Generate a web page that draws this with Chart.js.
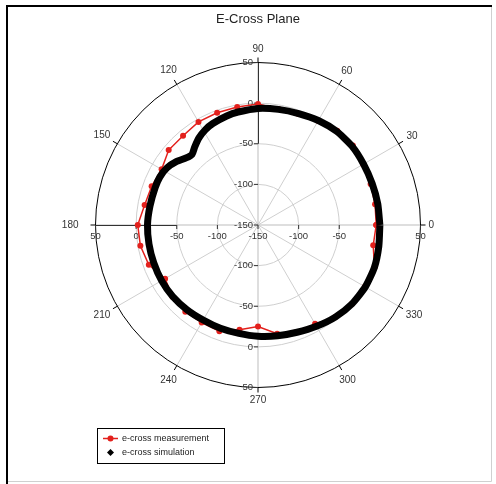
<!DOCTYPE html>
<html>
<head>
<meta charset="utf-8">
<title>E-Cross Plane</title>
<script src="https://cdn.jsdelivr.net/npm/chart.js@4.4.0/dist/chart.umd.min.js"></script>
<style>
  html, body { margin: 0; padding: 0; background: #fff; }
  #wrap { width: 496px; height: 484px; }
</style>
</head>
<body>
<div id="wrap"><canvas id="polarChart"></canvas></div>
<script>
// angles in degrees (0 = right, counter-clockwise), levels in dB
const measAngles = [0, 10, 20, 30, 40, 50, 60, 70, 80, 90, 100, 110, 120, 130, 140, 150, 160, 170, 180,
  190, 200, 210, 220, 230, 240, 250, 260, 270, 280, 290, 300, 310, 320, 330, 340, 350, 360];
const measValues = [-4.5, -3.7, -2.5, -0.5, 2.4, 1.6, -2, -4.5, -5, -1, -2.5, -3, -3.5, -6.5, -6.5, -13, -10.7, -8.3, -2,
  -3, -7, -18, -12.6, -10.8, -11.4, -11, -19, -25, -14, -10, -9.5, -2, 1, 2, 2.5, -6, -4.5];

const simAngles = [0, 10, 20, 30, 40, 50, 60, 70, 80, 90, 100, 106, 114, 119, 124, 129, 133, 137, 142, 148, 154,
  160, 170, 180, 190, 200, 210, 220, 230, 240, 250, 260, 270, 280, 290, 300, 310, 320, 330, 340, 350, 360];
const simValues = [0, -0.3, -0.5, 0, 1, 0.5, -1.5, -4, -5.5, -6.5, -8.8, -10.4, -13.3, -16.1, -20.4, -26.3, -31, -29, -23, -17.7, -15.5,
  -15.3, -15, -14, -13.8, -13.5, -13, -13, -14, -15, -14.8, -14.5, -13, -11.5, -9.5, -6, -2, 1, 2.5, 2.5, 1, 0];

const rTicks = [-150, -100, -50, 0, 50];
const angleTicks = [0, 30, 60, 90, 120, 150, 180, 210, 240, 270, 300, 330];

const rMin = -150, rMax = 50;
const span = rMax - rMin;

// polar -> cartesian, radius measured from the -150 dB centre
function toXY(angles, values) {
  return angles.map((a, i) => {
    const th = a * Math.PI / 180;
    const r = values[i] - rMin;
    return { x: r * Math.cos(th), y: r * Math.sin(th) };
  });
}

const font = "Arial, 'Liberation Sans', sans-serif";

const polarGrid = {
  id: 'polarGrid',
  beforeDatasetsDraw(chart) {
    const { ctx, scales: { x, y } } = chart;
    const cx = x.getPixelForValue(0), cy = y.getPixelForValue(0);
    const rad = v => x.getPixelForValue(v - rMin) - cx;
    const R = rad(rMax);
    ctx.save();
    ctx.lineWidth = 1;

    // grid rings
    ctx.strokeStyle = '#cfcfcf';
    rTicks.forEach(t => {
      if (t === rMin || t === rMax) return;
      ctx.beginPath();
      ctx.arc(cx, cy, rad(t), 0, Math.PI * 2);
      ctx.stroke();
    });

    // spokes
    angleTicks.forEach(a => {
      if (a % 90 === 0) return;
      const th = a * Math.PI / 180;
      ctx.beginPath();
      ctx.moveTo(cx, cy);
      ctx.lineTo(cx + R * Math.cos(th), cy - R * Math.sin(th));
      ctx.stroke();
    });

    // cross axes (light part)
    ctx.strokeStyle = '#bdbdbd';
    ctx.beginPath();
    ctx.moveTo(cx - R, cy); ctx.lineTo(cx + R, cy);
    ctx.moveTo(cx, cy - R); ctx.lineTo(cx, cy + R);
    ctx.stroke();
    // dark part (outer ring to -50)
    ctx.strokeStyle = '#333';
    ctx.beginPath();
    ctx.moveTo(cx - R, cy + 0.5); ctx.lineTo(cx - rad(-50), cy + 0.5);
    ctx.moveTo(cx + 0.5, cy - R); ctx.lineTo(cx + 0.5, cy - rad(-50));
    ctx.stroke();

    // outer ring
    ctx.strokeStyle = '#000';
    ctx.beginPath();
    ctx.arc(cx, cy, R, 0, Math.PI * 2);
    ctx.stroke();

    // angle ticks + labels
    ctx.font = '10px ' + font;
    ctx.fillStyle = '#333';
    ctx.textAlign = 'center';
    ctx.textBaseline = 'middle';
    angleTicks.forEach(a => {
      const th = a * Math.PI / 180;
      const c = Math.cos(th), s = Math.sin(th);
      ctx.strokeStyle = '#000';
      ctx.beginPath();
      ctx.moveTo(cx + R * c, cy - R * s);
      ctx.lineTo(cx + (R + 5) * c, cy - (R + 5) * s);
      ctx.stroke();
      const label = String(a);
      const w = ctx.measureText(label).width;
      // 180 sits a bit further out, clear of the "50" tick label
      const extra = a === 180 ? 9 : 0;
      const d = R + 8 + extra + Math.abs(c) * w / 2 + Math.abs(s) * 5;
      ctx.fillText(label, cx + d * c, cy - d * s);
    });

    // radial tick labels along the cross axes
    ctx.font = '9.5px ' + font;
    ctx.strokeStyle = '#333';
    rTicks.forEach(t => {
      const d = rad(t);
      // vertical axis, labels on the left
      [-1, 1].forEach(sgn => {
        if (t === rMin && sgn === 1) return;
        const py = cy + sgn * d;
        ctx.beginPath();
        ctx.moveTo(cx - 4, py); ctx.lineTo(cx, py);
        ctx.stroke();
        ctx.textAlign = 'right';
        ctx.textBaseline = 'middle';
        ctx.fillText(String(t), cx - 5, py);
      });
      // horizontal axis, labels below
      [-1, 1].forEach(sgn => {
        if (t === rMin && sgn === 1) return;
        const px = cx + sgn * d;
        ctx.beginPath();
        ctx.moveTo(px, cy); ctx.lineTo(px, cy + 4);
        ctx.stroke();
        ctx.textAlign = 'center';
        ctx.textBaseline = 'top';
        ctx.fillText(String(t), px, cy + 7);
      });
    });
    ctx.restore();
  },
  afterDraw(chart) {
    const ctx = chart.ctx;
    ctx.save();
    // frame
    ctx.strokeStyle = '#d0d0d0';
    ctx.lineWidth = 1;
    ctx.beginPath();
    ctx.moveTo(491.5, 5); ctx.lineTo(491.5, 481.5); ctx.lineTo(6, 481.5);
    ctx.stroke();
    ctx.strokeStyle = '#000';
    ctx.lineWidth = 2;
    ctx.beginPath();
    ctx.moveTo(7, 484); ctx.lineTo(7, 6); ctx.lineTo(492, 6);
    ctx.stroke();

    // legend
    ctx.lineWidth = 1;
    ctx.strokeRect(97.5, 428.5, 127, 35);
    ctx.strokeStyle = '#e3201c';
    ctx.fillStyle = '#e3201c';
    ctx.lineWidth = 1.5;
    ctx.beginPath();
    ctx.moveTo(103, 438.5); ctx.lineTo(118, 438.5);
    ctx.stroke();
    ctx.beginPath();
    ctx.arc(110.5, 438.5, 3, 0, Math.PI * 2);
    ctx.fill();
    ctx.fillStyle = '#000';
    ctx.beginPath();
    ctx.moveTo(110.5, 449); ctx.lineTo(114, 452.5); ctx.lineTo(110.5, 456); ctx.lineTo(107, 452.5);
    ctx.closePath();
    ctx.fill();
    ctx.fillStyle = '#222';
    ctx.font = '9px ' + font;
    ctx.textAlign = 'left';
    ctx.textBaseline = 'middle';
    ctx.fillText('e-cross measurement', 122, 438.5);
    ctx.fillText('e-cross simulation', 122, 453);
    ctx.restore();
  }
};

new Chart(document.getElementById('polarChart'), {
  type: 'scatter',
  data: {
    datasets: [
      {
        label: 'e-cross measurement',
        data: toXY(measAngles, measValues),
        showLine: true,
        borderColor: '#e3201c',
        backgroundColor: '#e3201c',
        borderWidth: 1.5,
        pointRadius: 3,
        pointBorderWidth: 0,
        order: 2
      },
      {
        label: 'e-cross simulation',
        data: toXY(simAngles, simValues),
        showLine: true,
        borderColor: '#000',
        backgroundColor: '#000',
        borderWidth: 7,
        pointRadius: 0,
        tension: 0.2,
        order: 1
      }
    ]
  },
  options: {
    responsive: true,
    maintainAspectRatio: false,
    animation: false,
    layout: { padding: { left: 95.5, right: 75.5, top: 0, bottom: 96.5 } },
    scales: {
      x: { type: 'linear', min: -span, max: span, display: false },
      y: { type: 'linear', min: -span, max: span, display: false }
    },
    plugins: {
      legend: { display: false },
      tooltip: { enabled: false },
      title: {
        display: true,
        text: 'E-Cross Plane',
        color: '#222',
        font: { family: font, size: 13, weight: 'normal' },
        padding: { top: 11.2, bottom: 35.7 }
      }
    }
  },
  plugins: [polarGrid]
});
</script>
</body>
</html>
